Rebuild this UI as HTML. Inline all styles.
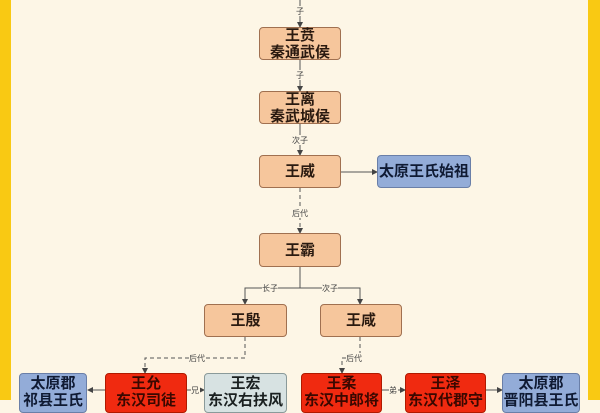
<!DOCTYPE html>
<html><head><meta charset="utf-8"><style>
body{margin:0;width:600px;height:400px;overflow:hidden;background:#fdf6e6;font-family:"Liberation Sans","Noto Sans CJK SC",sans-serif;}
.wrap{position:absolute;left:0;top:0;width:600px;height:400px;}
.bl{position:absolute;left:0;top:0;width:11px;height:400px;background:#f9c913;}
.br{position:absolute;left:588px;top:0;width:12px;height:400px;background:#f9c913;}
.n{position:absolute;box-sizing:border-box;border:1px solid #a07050;border-radius:4px;background:#f6c69c;display:flex;align-items:center;justify-content:center;text-align:center;font-weight:bold;font-size:15px;line-height:17px;color:#2a1a10;}
.n span{display:block;text-align:center;}
.b{background:#93acd8;border-color:#6a7fa8;color:#0f1a33;}
.r{background:#f02a10;border-color:#b01a00;color:#3a0800;}
.g{background:#d7e2e2;border-color:#8a9a9a;color:#1a2020;}
.bot{align-items:flex-start;padding-top:1px;}
</style></head><body><div class="wrap">
<div class="bl"></div><div class="br"></div>
<svg width="600" height="400" style="position:absolute;left:0;top:0">
<defs><marker id="a" markerWidth="6" markerHeight="6" refX="5" refY="3" orient="auto"><path d="M0,0L6,3L0,6z" fill="#444"/></marker></defs>
<g stroke="#555" stroke-width="1" fill="none">
<line x1="300" y1="0" x2="300" y2="27" marker-end="url(#a)"/>
<line x1="300" y1="60" x2="300" y2="91" marker-end="url(#a)"/>
<line x1="300" y1="124" x2="300" y2="155" marker-end="url(#a)"/>
<line x1="341" y1="172" x2="377" y2="172" marker-end="url(#a)"/>
<line x1="300" y1="188" x2="300" y2="233" stroke-dasharray="4,3" marker-end="url(#a)"/>
<polyline points="300,267 300,288"/>
<polyline points="300,288 245,288 245,304" marker-end="url(#a)"/>
<polyline points="300,288 360,288 360,304" marker-end="url(#a)"/>
<polyline points="245,337 245,358 145,358 145,373" stroke-dasharray="4,3" marker-end="url(#a)"/>
<polyline points="360,337 360,358 342,358 342,373" stroke-dasharray="4,3" marker-end="url(#a)"/>
<line x1="105" y1="390" x2="88" y2="390" marker-end="url(#a)"/>
<line x1="187" y1="390" x2="204" y2="390" marker-end="url(#a)"/>
<line x1="382" y1="390" x2="405" y2="390" marker-end="url(#a)"/>
<line x1="486" y1="390" x2="502" y2="390" marker-end="url(#a)"/>
</g>
<g font-size="8" fill="#444" text-anchor="middle" font-family="Liberation Sans,Noto Sans CJK SC,sans-serif">
<rect x="295" y="6" width="10" height="10" fill="#fdf6e6"/><text x="300" y="14">子</text>
<rect x="295" y="70" width="10" height="10" fill="#fdf6e6"/><text x="300" y="78">子</text>
<rect x="292" y="135" width="16" height="10" fill="#fdf6e6"/><text x="300" y="143">次子</text>
<rect x="292" y="208" width="16" height="10" fill="#fdf6e6"/><text x="300" y="216">后代</text>
<rect x="262" y="283" width="16" height="10" fill="#fdf6e6"/><text x="270" y="291">长子</text>
<rect x="322" y="283" width="16" height="10" fill="#fdf6e6"/><text x="330" y="291">次子</text>
<rect x="189" y="353" width="16" height="10" fill="#fdf6e6"/><text x="197" y="361">后代</text>
<rect x="346" y="353" width="16" height="10" fill="#fdf6e6"/><text x="354" y="361">后代</text>
<rect x="191" y="385" width="9" height="10" fill="#fdf6e6"/><text x="195" y="393">兄</text>
<rect x="389" y="385" width="9" height="10" fill="#fdf6e6"/><text x="393" y="393">弟</text>
</g>
</svg>
<div class="n" style="left:259px;top:27px;width:82px;height:33px"><span>王贲<br>秦通武侯</span></div>
<div class="n" style="left:259px;top:91px;width:82px;height:33px"><span>王离<br>秦武城侯</span></div>
<div class="n" style="left:259px;top:155px;width:82px;height:33px"><span>王威</span></div>
<div class="n b" style="left:377px;top:155px;width:94px;height:33px"><span>太原王氏始祖</span></div>
<div class="n" style="left:259px;top:233px;width:82px;height:34px"><span>王霸</span></div>
<div class="n" style="left:204px;top:304px;width:83px;height:33px"><span>王殷</span></div>
<div class="n" style="left:320px;top:304px;width:82px;height:33px"><span>王咸</span></div>
<div class="n b bot" style="left:19px;top:373px;width:68px;height:40px"><span>太原郡<br>祁县王氏</span></div>
<div class="n r bot" style="left:105px;top:373px;width:82px;height:40px"><span>王允<br>东汉司徒</span></div>
<div class="n g bot" style="left:204px;top:373px;width:83px;height:40px"><span>王宏<br>东汉右扶风</span></div>
<div class="n r bot" style="left:301px;top:373px;width:81px;height:40px"><span>王柔<br>东汉中郎将</span></div>
<div class="n r bot" style="left:405px;top:373px;width:81px;height:40px"><span>王泽<br>东汉代郡守</span></div>
<div class="n b bot" style="left:502px;top:373px;width:78px;height:40px"><span>太原郡<br>晋阳县王氏</span></div>
</div></body></html>
